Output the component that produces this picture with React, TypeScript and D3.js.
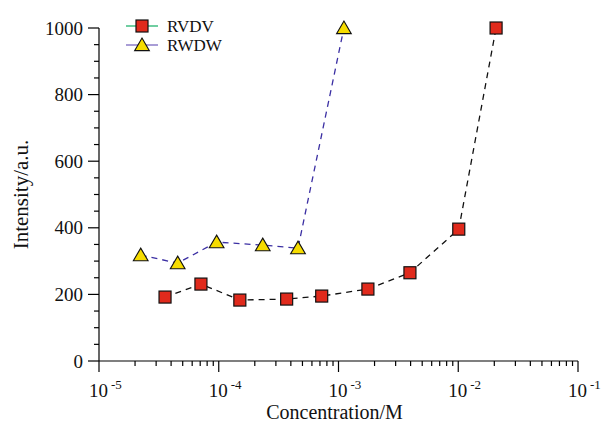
import React from "react";
import * as d3 from "d3";

const rvdvX = [3.56e-5, 7.1e-5, 1.5e-4, 3.69e-4, 7.24e-4, 1.76e-3, 3.95e-3, 1.01e-2, 2.07e-2];
const rvdvY = [192, 231, 183, 186, 195, 216, 265, 396, 1000];
const rwdwX = [2.23e-5, 4.54e-5, 9.6e-5, 2.33e-4, 4.59e-4, 1.11e-3];
const rwdwY = [318, 294, 357, 348, 339, 1000];
const xDecades = [-5, -4, -3, -2, -1];
const yTicks = [0, 200, 400, 600, 800, 1000];
const seriesNames = ["RVDV", "RWDW"];

const W = 616, H = 424;
const L = 99, R = 578, T = 28, B = 361;
const FONT = "Liberation Serif";

export default function App() {
  const x = d3.scaleLog().domain([1e-5, 1e-1]).range([L, R]);
  const y = d3.scaleLinear().domain([0, 1000]).range([B, T]);
  const line = d3.line<[number, number]>()
    .x(d => x(d[0])).y(d => y(d[1]))
    .curve(d3.curveLinear);
  const red = rvdvX.map((v, i) => [v, rvdvY[i]] as [number, number]);
  const yel = rwdwX.map((v, i) => [v, rwdwY[i]] as [number, number]);

  const minorX: number[] = [];
  for (let e = -5; e < -1; e++) for (let k = 2; k <= 9; k++) minorX.push(k * Math.pow(10, e));
  const minorY = d3.range(50, 1000, 50).filter(v => v % 200 !== 0);

  const ts = { fontFamily: FONT, fill: "#111" } as React.CSSProperties;
  const tri = (cx: number, cy: number, s = 7) =>
    `M${cx},${cy - s} L${cx + s * 1.05},${cy + s * 0.8} L${cx - s * 1.05},${cy + s * 0.8} Z`;
  const sq = (cx: number, cy: number, key: any) => (
    <rect key={key} x={cx - 6} y={cy - 6} width={12} height={12} fill="#e02a1c" stroke="#111" strokeWidth={1.2} />
  );

  return (
    <svg width={W} height={H} style={{ position: "absolute", left: 0, top: 0 }}>
      <rect width={W} height={H} fill="#fff" />
      <line x1={L} x2={L} y1={T} y2={B} stroke="#000" strokeWidth={1.2} />
      <line x1={L} x2={R} y1={B} y2={B} stroke="#000" strokeWidth={1.2} />
      {yTicks.map(v => (
        <g key={"yt" + v}>
          <line x1={L - 11} x2={L} y1={y(v)} y2={y(v)} stroke="#000" strokeWidth={1.2} />
          <text x={83} y={y(v)} dy="0.35em" textAnchor="end" fontSize={19} style={ts}>{v}</text>
        </g>
      ))}
      {minorY.map(v => (
        <line key={"ym" + v} x1={L - 5} x2={L} y1={y(v)} y2={y(v)} stroke="#000" strokeWidth={1.2} />
      ))}
      {xDecades.map(e => (
        <g key={"xt" + e}>
          <line x1={x(Math.pow(10, e))} x2={x(Math.pow(10, e))} y1={B} y2={B + 11} stroke="#000" strokeWidth={1.2} />
          <text x={x(Math.pow(10, e)) - 10} y={397} fontSize={19} style={ts}>10</text>
          <text x={x(Math.pow(10, e)) + 12} y={389} fontSize={13} style={ts}>{"-" + -e}</text>
        </g>
      ))}
      {minorX.map((v, i) => (
        <line key={"xm" + i} x1={x(v)} x2={x(v)} y1={B} y2={B + 5} stroke="#000" strokeWidth={1.2} />
      ))}
      <text x={(L + R) / 2 - 4} y={419} textAnchor="middle" fontSize={20} style={ts}>Concentration/M</text>
      <text transform={`translate(28, ${(T + B) / 2}) rotate(-90)`} textAnchor="middle" fontSize={21} style={ts}>Intensity/a.u.</text>

      <path d={line(red) || ""} fill="none" stroke="#111" strokeWidth={1.3} strokeDasharray="6,5" />
      <path d={line(yel) || ""} fill="none" stroke="#3b2fa3" strokeWidth={1.3} strokeDasharray="6,5" />
      {red.map((d, i) => sq(x(d[0]), y(d[1]), "r" + i))}
      {yel.map((d, i) => (
        <path key={"t" + i} d={tri(x(d[0]), y(d[1]))} fill="#f6dc00" stroke="#111" strokeWidth={1.1} />
      ))}

      <line x1={126} x2={158} y1={26} y2={26} stroke="#22b46e" strokeWidth={1.3} />
      {sq(142, 26, "lr")}
      <text x={167} y={26} dy="0.35em" fontSize={17} style={ts}>{seriesNames[0]}</text>
      <line x1={126} x2={158} y1={45} y2={45} stroke="#7a68c0" strokeWidth={1.3} />
      <path d={tri(142, 45)} fill="#f6dc00" stroke="#111" strokeWidth={1.1} />
      <text x={167} y={45} dy="0.35em" fontSize={17} style={ts}>{seriesNames[1]}</text>
    </svg>
  );
}
